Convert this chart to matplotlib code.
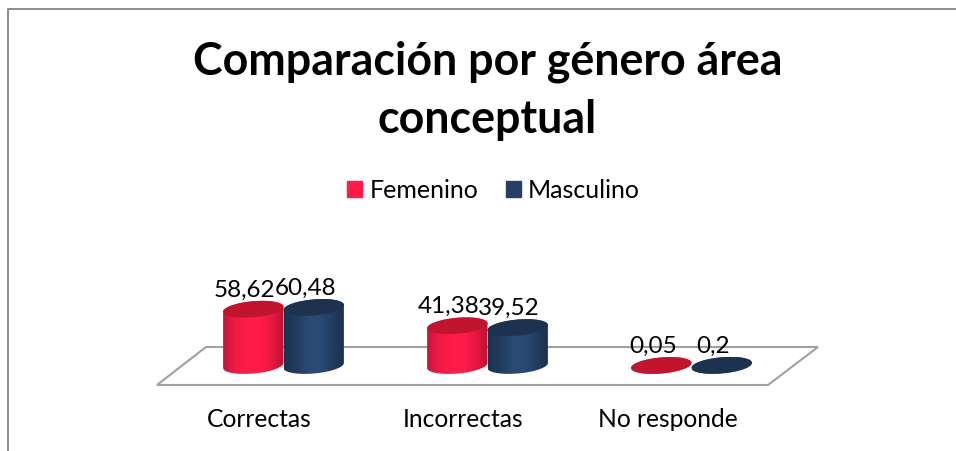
import matplotlib
matplotlib.use('Agg')
import matplotlib.pyplot as plt
import numpy as np

from matplotlib.colors import LinearSegmentedColormap
from matplotlib.patches import Patch, PathPatch, Polygon
from matplotlib.path import Path

plt.rcParams['font.family'] = ['Lato', 'DejaVu Sans']

categories = ['Correctas', 'Incorrectas', 'No responde']
series_names = ['Femenino', 'Masculino']
femenino = [58.62, 41.38, 0.05]
masculino = [60.48, 39.52, 0.2]
title = 'Comparación por género área\nconceptual'

W, H = 956, 451
GROUP_PX = 204.0     # px between categories
VALUE_PX = 0.96      # px per value unit
X0_PX = 283.5        # px of first category
Y0_PX = 365.5        # px of value 0

BAR_W = 0.148        # half width of a cylinder, category units
CAP_B = 8.0 / VALUE_PX
CAP_TILT = 2.5 / VALUE_PX / BAR_W


def px(x, y):
    return (x - X0_PX) / GROUP_PX, (Y0_PX - y) / VALUE_PX


def cap_points(xc, yc, t):
    x = xc + BAR_W * np.cos(t)
    y = yc + CAP_B * np.sin(t) + CAP_TILT * (x - xc)
    return x, y


def draw_cylinder(ax, xc, value, side_cmap, top_color, z):
    t = np.linspace(np.pi, 2 * np.pi, 60)
    xb, yb = cap_points(xc, 0, t)
    t = np.linspace(0, np.pi, 60)
    xt, yt = cap_points(xc, value, t)
    verts = np.column_stack([np.r_[xb, xt], np.r_[yb, yt]])
    body = PathPatch(Path(verts), fc='none', ec='none', zorder=z)
    ax.add_patch(body)
    grad = np.linspace(0, 1, 200).reshape(1, -1)
    y_low, y_high = verts[:, 1].min(), verts[:, 1].max()
    im = ax.imshow(grad, cmap=side_cmap, aspect='auto', zorder=z, interpolation='bilinear',
                   extent=(xc - BAR_W, xc + BAR_W, y_low, y_high))
    im.set_clip_path(body)

    t = np.linspace(0, 2 * np.pi, 120)
    xc2, yc2 = cap_points(xc, value, t)
    ax.add_patch(Polygon(np.column_stack([xc2, yc2]), fc=top_color, ec='none', zorder=z + 0.1))


fig = plt.figure(figsize=(W / 100, H / 100), dpi=100, facecolor='white')
ax = fig.add_axes([0, 0, 1, 1])
ax.axis('off')

# outer chart border, only top and left are in frame
ax.plot(*zip(px(8.5, H), px(8.5, 8.5), px(W, 8.5)), color='#8c8c8c', lw=1.4, zorder=1)

# floor of the 3d chart
floor = [px(157, 385), px(768, 385), px(818, 347), px(206, 347)]
ax.add_patch(Polygon(floor, closed=True, fc='white', ec='#a0a0a0', lw=1.5, zorder=2))

red_side = LinearSegmentedColormap.from_list('red', ['#c9153b', '#f01a44', '#ff1c48', '#ff1c48', '#e81842', '#bd1336'])
navy_side = LinearSegmentedColormap.from_list('navy', ['#1b3350', '#223c5f', '#2a4a73', '#2a4a73', '#223c5f', '#1a304c'])

x_pos = np.arange(len(categories))
for i, x in enumerate(x_pos):
    draw_cylinder(ax, x - BAR_W, femenino[i], red_side, '#c0142f', 3 + i)
    draw_cylinder(ax, x + BAR_W, masculino[i], navy_side, '#1c324f', 3.5 + i)
    for xc, val in ((x - BAR_W, femenino[i]), (x + BAR_W, masculino[i])):
        ax.text(xc - 8.5 / GROUP_PX, val + 19 / VALUE_PX, str(val).replace('.', ','),
                ha='center', va='center', fontsize=17.5, color='black', zorder=10)
    ax.text(x - 24 / GROUP_PX, -54 / VALUE_PX, categories[i],
            ha='center', va='center', fontsize=17.7, color='black', zorder=10)

ax.set_xlim(px(0, 0)[0], px(W, 0)[0])
ax.set_ylim(px(0, H)[1], px(0, 0)[1])

tx, ty = px(487.5, 91)
ax.text(tx, ty, title, ha='center', va='center', fontsize=32.2, fontweight='bold',
        color='black', linespacing=1.47, zorder=10)

handles = [Patch(color='#ff1c48', label=series_names[0]), Patch(color='#243f66', label=series_names[1])]
fig.legend(handles=handles, loc='center', bbox_to_anchor=(493.5 / W, 1 - 190 / H), ncol=2, frameon=False,
           fontsize=18, handlelength=0.6, handleheight=0.6, handletextpad=0.3, columnspacing=1.1,
           labelcolor='black')

fig.savefig('out.png', dpi=100)
